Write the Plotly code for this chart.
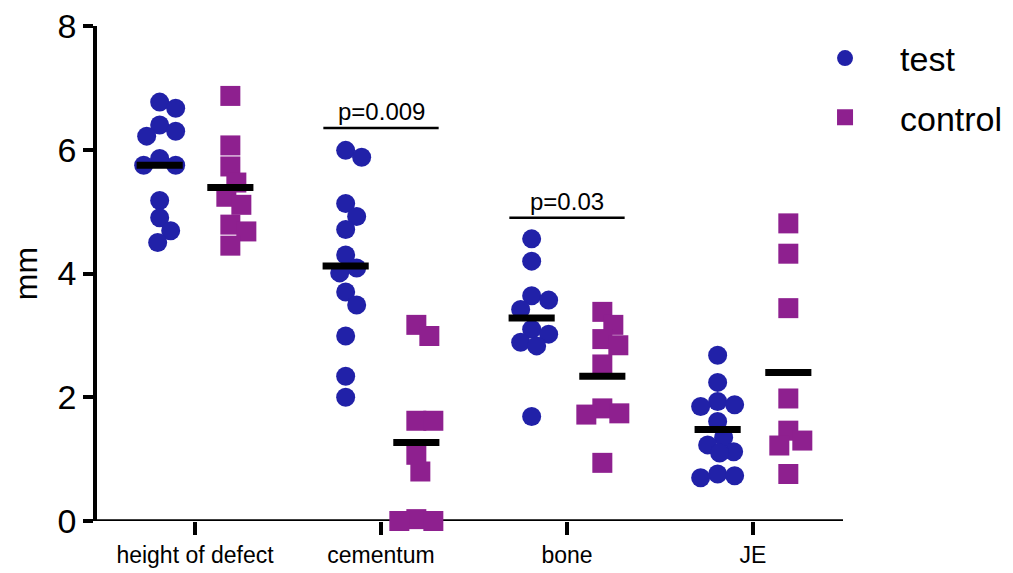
import numpy as np
import plotly.graph_objects as go

# ---------------- data ----------------
categories = ["height of defect", "cementum", "bone", "JE"]

test_height = [6.77, 6.67, 6.40, 6.30, 6.22, 5.86, 5.75, 5.75, 5.18, 4.90, 4.69, 4.50]
control_height = [6.87, 6.07, 5.73, 5.47, 5.24, 5.11, 4.79, 4.68, 4.45]
test_cementum = [5.99, 5.88, 5.13, 4.92, 4.71, 4.30, 4.09, 4.01, 3.70, 3.49, 2.99, 2.34, 2.00]
control_cementum = [3.17, 2.99, 1.62, 1.62, 1.07, 0.80, 0.03, 0.00, 0.00]
test_bone = [4.56, 4.20, 3.64, 3.57, 3.42, 3.10, 3.02, 2.89, 2.83, 1.69]
control_bone = [3.38, 3.17, 2.94, 2.84, 2.53, 1.82, 1.74, 1.72, 0.94]
test_je = [2.68, 2.24, 1.93, 1.88, 1.85, 1.61, 1.35, 1.23, 1.12, 1.10, 0.76, 0.73, 0.70]
control_je = [4.81, 4.32, 3.44, 1.98, 1.46, 1.30, 1.22, 0.76]

test_means = [5.75, 4.12, 3.28, 1.48]
control_means = [5.39, 1.27, 2.34, 2.40]

p_labels = ["p=0.009", "p=0.03"]
p_categories = [1, 2]
p_heights = [6.35, 4.90]

y_ticks = [0, 2, 4, 6, 8]

test_groups = [test_height, test_cementum, test_bone, test_je]
control_groups = [control_height, control_cementum, control_bone, control_je]

# ---------------- styling / layout ----------------
BLUE = "rgb(33,33,168)"
PURPLE = "rgb(142,32,143)"
FONT = "Liberation Sans, Arial, Helvetica, sans-serif"

# page body has an 8px default margin -> figure is 8px smaller than the window
W, H = 1005, 565
M_L, M_R, M_T, M_B = 89, 170, 18, 52
X_RANGE = [-0.527, 3.484]
Y_RANGE = [0, 8]
PX_X = (W - M_L - M_R) / (X_RANGE[1] - X_RANGE[0])
PX_Y = (H - M_T - M_B) / (Y_RANGE[1] - Y_RANGE[0])
GROUP_OFF = 0.19
MEAN_HALF = 0.124


def swarm_offsets(vals, min_d=17.0, max_off=18):
    """Simple deterministic beeswarm: offsets (in x data units)."""
    placed = []
    offs = []
    cands = [0]
    for k in range(1, max_off + 1):
        cands += [k, -k]
    for v in vals:
        vy = v * PX_Y
        best, best_d = 0, -1
        chosen = None
        for c in cands:
            dmin = min([np.hypot(c - px, vy - py) for px, py in placed] or [1e9])
            if dmin >= min_d:
                chosen = c
                break
            if dmin > best_d:
                best, best_d = c, dmin
        if chosen is None:
            chosen = best
        placed.append((chosen, vy))
        offs.append(chosen / PX_X)
    return offs


def group_xy(groups, sign):
    xs, ys = [], []
    for i, vals in enumerate(groups):
        offs = swarm_offsets(vals)
        xs += [i + sign * GROUP_OFF + o for o in offs]
        ys += list(vals)
    return xs, ys


fig = go.Figure()

tx, ty = group_xy(test_groups, -1)
cx, cy = group_xy(control_groups, +1)

fig.add_trace(go.Scatter(
    x=tx, y=ty, mode="markers", name="test", legendgroup="t",
    marker=dict(symbol="circle", size=19, color=BLUE, line=dict(width=0)),
    cliponaxis=False,
))
fig.add_trace(go.Scatter(
    x=cx, y=cy, mode="markers", name="control", legendgroup="c",
    marker=dict(symbol="square", size=20, color=PURPLE, line=dict(width=0)),
    cliponaxis=False,
))

# mean lines
mx, my = [], []
for i, m in enumerate(test_means):
    c = i - GROUP_OFF
    mx += [c - MEAN_HALF, c + MEAN_HALF, None]
    my += [m, m, None]
for i, m in enumerate(control_means):
    c = i + GROUP_OFF
    mx += [c - MEAN_HALF, c + MEAN_HALF, None]
    my += [m, m, None]
fig.add_trace(go.Scatter(
    x=mx, y=my, mode="lines", line=dict(color="black", width=7),
    showlegend=False, hoverinfo="skip", cliponaxis=False,
))

# significance bars
bx, by = [], []
for cat, h in zip(p_categories, p_heights):
    bx += [cat - 0.31, cat + 0.31, None]
    by += [h, h, None]
fig.add_trace(go.Scatter(
    x=bx, y=by, mode="lines", line=dict(color="black", width=2.5),
    showlegend=False, hoverinfo="skip",
))
for lab, cat, h in zip(p_labels, p_categories, p_heights):
    fig.add_annotation(
        x=cat, y=h, text=lab, showarrow=False, yanchor="bottom", yshift=1,
        font=dict(family=FONT, size=24, color="black"),
    )

# x axis baseline extending slightly left of the y axis
fig.add_shape(type="line", xref="paper", yref="y", x0=-0.012, x1=1.0, y0=0, y1=0,
              line=dict(color="black", width=3.5), layer="below")

fig.update_layout(
    width=W, height=H,
    margin=dict(l=M_L, r=M_R, t=M_T, b=M_B, pad=0, autoexpand=False),
    paper_bgcolor="white", plot_bgcolor="white",
    font=dict(family=FONT, color="black"),
    showlegend=True,
    legend=dict(
        x=0.929, xanchor="left", y=0.993, yanchor="top",
        font=dict(family=FONT, size=34, color="black"),
        itemwidth=100, tracegroupgap=12, bgcolor="rgba(0,0,0,0)",
    ),
    xaxis=dict(
        range=X_RANGE, tickmode="array", tickvals=list(range(len(categories))),
        ticktext=categories, showgrid=False, zeroline=False, showline=False,
        ticks="outside", ticklen=13, tickwidth=3.5, tickcolor="black",
        tickfont=dict(family=FONT, size=23, color="black"),
    ),
    yaxis=dict(
        range=Y_RANGE, tickmode="array", tickvals=y_ticks,
        showgrid=False, zeroline=False, showline=True, linecolor="black", linewidth=3.5,
        ticks="outside", ticklen=10, tickwidth=3.5, tickcolor="black",
        ticklabeloverflow="allow",
        tickfont=dict(family=FONT, size=34, color="black"),
        title=dict(text="mm", font=dict(family=FONT, size=32, color="black"), standoff=12),
    ),
)

fig.write_html("out.html")
